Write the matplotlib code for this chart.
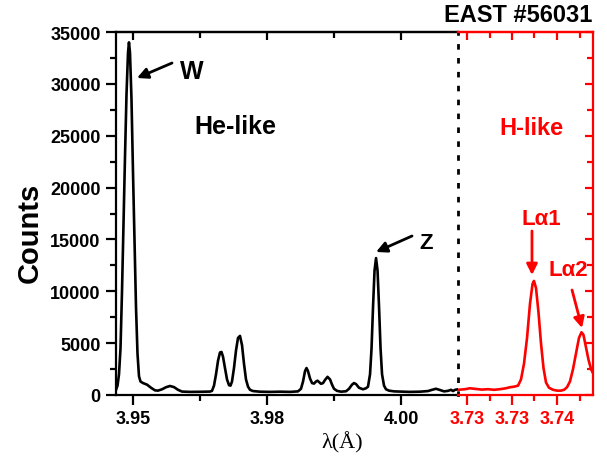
import matplotlib
matplotlib.use("Agg")
import matplotlib.pyplot as plt
from matplotlib.ticker import FixedLocator

plt.rcParams['font.family'] = ['Liberation Sans', 'DejaVu Sans']
plt.rcParams['font.weight'] = 'bold'

# He-like spectrum (black)
he_wavelength = [3.94683, 3.94711, 3.94739, 3.94767, 3.94795, 3.94823, 3.94851, 3.94879,
                 3.94907, 3.94925, 3.94944, 3.94972, 3.95000, 3.95028, 3.95056, 3.95084,
                 3.95112, 3.95140, 3.95187, 3.95261, 3.95336, 3.95410, 3.95466, 3.95541,
                 3.95616, 3.95690, 3.95765, 3.95840, 3.95914, 3.96063, 3.96250, 3.96437,
                 3.96474, 3.96511, 3.96549, 3.96586, 3.96623, 3.96651, 3.96679, 3.96716,
                 3.96754, 3.96791, 3.96819, 3.96847, 3.96884, 3.96922, 3.96959, 3.96996,
                 3.97034, 3.97071, 3.97108, 3.97146, 3.97183, 3.97239, 3.97369, 3.97556,
                 3.97743, 3.97929, 3.98078, 3.98134, 3.98172, 3.98209, 3.98237, 3.98265,
                 3.98302, 3.98340, 3.98377, 3.98414, 3.98442, 3.98470, 3.98508, 3.98545,
                 3.98582, 3.98629, 3.98676, 3.98713, 3.98750, 3.98806, 3.98881, 3.98974,
                 3.99030, 3.99086, 3.99123, 3.99161, 3.99216, 3.99291, 3.99347, 3.99384,
                 3.99422, 3.99450, 3.99478, 3.99506, 3.99534, 3.99562, 3.99590, 3.99618,
                 3.99646, 3.99683, 3.99720, 3.99776, 3.99870, 3.99981, 4.00168, 4.00355,
                 4.00504, 4.00579, 4.00653, 4.00728, 4.00802, 4.00877, 4.00933, 4.00970,
                 4.01008, 4.01063]
he_counts = [500, 900, 2000, 4500, 10000, 16500, 23000, 29000,
             33000, 34000, 33000, 28500, 21500, 15000, 8500, 4000,
             1800, 1300, 1150, 1000, 700, 450, 420, 550,
             750, 870, 760, 500, 330, 300, 310, 330,
             400, 900, 2000, 3300, 4100, 4150, 3700, 2600,
             1500, 950, 900, 1300, 2600, 4300, 5500, 5700,
             4800, 3000, 1500, 800, 500, 380, 320, 300,
             320, 300, 350, 600, 1300, 2300, 2600, 2300,
             1600, 1150, 1100, 1300, 1380, 1250, 1080, 1150,
             1450, 1750, 1500, 1000, 600, 400, 320, 360,
             600, 1000, 1150, 1050, 700, 550, 650, 800,
             2000, 4500, 8500, 12000, 13200, 12000, 8500, 4500,
             2000, 900, 550, 420, 350, 330, 300, 320,
             380, 500, 600, 480, 350, 400, 500, 380,
             500, 550]

# H-like spectrum (red)
h_wavelength = [3.72900, 3.72978, 3.73033, 3.73100, 3.73167, 3.73233, 3.73300, 3.73367,
                3.73433, 3.73478, 3.73522, 3.73567, 3.73600, 3.73633, 3.73667, 3.73700,
                3.73728, 3.73744, 3.73767, 3.73794, 3.73822, 3.73850, 3.73878, 3.73911,
                3.73956, 3.74000, 3.74044, 3.74078, 3.74111, 3.74144, 3.74178, 3.74211,
                3.74244, 3.74272, 3.74294, 3.74322, 3.74350, 3.74378, 3.74400]
h_counts = [500, 560, 650, 580, 520, 560, 500, 560,
            650, 750, 800, 900, 1500, 3000, 5500, 8800,
            10700, 11000, 10300, 8000, 5000, 2600, 1200, 700,
            500, 420, 420, 500, 750, 1300, 2500, 4000,
            5500, 6050, 5800, 4600, 3400, 2500, 2100]

y_ticks = [0, 5000, 10000, 15000, 20000, 25000, 30000, 35000]
y_minor = [2500, 7500, 12500, 17500, 22500, 27500, 32500]
he_xticks = [3.95, 3.975, 4.00]
he_xticklabels = ["3.95", "3.98", "4.00"]
he_xminor = [3.9625, 3.9875]
h_xticks = [3.730, 3.735, 3.740]
h_xticklabels = ["3.73", "3.73", "3.74"]
h_xminor = [3.7325, 3.7375, 3.7425]

W, H = 607, 464
RED = '#ff0000'
fig = plt.figure(figsize=(W / 100, H / 100), dpi=100)
ax1 = fig.add_axes([116 / W, 68 / H, 342 / W, 363 / H])
ax2 = fig.add_axes([458 / W, 68 / H, 135 / W, 363 / H])

SW = 1.6
# ---- black axes ----
ax1.plot(he_wavelength, he_counts, color='black', lw=1.9, solid_joinstyle='round')
ax1.set_xlim(3.94683, 4.01063)
ax1.set_ylim(0, 35000)
for s in ['left', 'bottom', 'top']:
    ax1.spines[s].set_linewidth(SW)
ax1.spines['right'].set_linewidth(2.0)
ax1.spines['right'].set_linestyle((0, (1, 4)))
ax1.set_xticks(he_xticks)
ax1.set_xticklabels(he_xticklabels)
ax1.xaxis.set_minor_locator(FixedLocator(he_xminor))
ax1.set_yticks(y_ticks)
ax1.set_yticklabels([str(v) for v in y_ticks])
ax1.yaxis.set_minor_locator(FixedLocator(y_minor))
ax1.tick_params(axis='both', which='both', direction='out', width=SW, labelsize=13,
                top=False, right=False)
ax1.tick_params(axis='both', which='major', length=7, pad=4)
ax1.tick_params(axis='both', which='minor', length=4.5)
for lab in ax1.get_xticklabels() + ax1.get_yticklabels():
    lab.set_fontweight('bold')

sec1 = ax1.secondary_xaxis('top')
sec1.set_xticks(he_xticks)
sec1.xaxis.set_minor_locator(FixedLocator(he_xminor))
sec1.tick_params(axis='x', which='both', direction='in', width=SW, labeltop=False)
sec1.tick_params(axis='x', which='major', length=6)
sec1.tick_params(axis='x', which='minor', length=4)
sec1.spines['top'].set_linewidth(SW)

# ---- red axes ----
ax2.patch.set_alpha(0)
ax2.plot(h_wavelength, h_counts, color=RED, lw=1.9, solid_joinstyle='round')
ax2.set_xlim(3.729, 3.744)
ax2.set_ylim(0, 35000)
ax2.spines['left'].set_visible(False)
for s in ['right', 'bottom', 'top']:
    ax2.spines[s].set_linewidth(SW)
    ax2.spines[s].set_color(RED)
ax2.set_xticks(h_xticks)
ax2.set_xticklabels(h_xticklabels)
ax2.xaxis.set_minor_locator(FixedLocator(h_xminor))
ax2.set_yticks(y_ticks)
ax2.yaxis.set_minor_locator(FixedLocator(y_minor))
ax2.tick_params(axis='x', which='both', direction='out', width=SW, colors=RED,
                labelsize=13, top=False)
ax2.tick_params(axis='x', which='major', length=7, pad=4)
ax2.tick_params(axis='x', which='minor', length=4.5)
ax2.tick_params(axis='y', which='both', direction='in', width=SW, colors=RED,
                left=False, labelleft=False, right=True, labelright=False)
ax2.tick_params(axis='y', which='major', length=6)
ax2.tick_params(axis='y', which='minor', length=4)
for lab in ax2.get_xticklabels():
    lab.set_fontweight('bold')

sec2 = ax2.secondary_xaxis('top')
sec2.set_xticks(h_xticks)
sec2.xaxis.set_minor_locator(FixedLocator(h_xminor))
sec2.tick_params(axis='x', which='both', direction='in', width=SW, colors=RED, labeltop=False)
sec2.tick_params(axis='x', which='major', length=6)
sec2.tick_params(axis='x', which='minor', length=4)
sec2.spines['top'].set_linewidth(SW)
sec2.spines['top'].set_color(RED)

# ---- annotations ----
arw_k = dict(arrowstyle='-|>', color='black', lw=2, mutation_scale=16, shrinkA=0, shrinkB=0)
arw_r = dict(arrowstyle='-|>', color=RED, lw=2, mutation_scale=16, shrinkA=0, shrinkB=0)

ax1.annotate('', xy=(3.95075, 30565), xytext=(3.95728, 32011), arrowprops=arw_k)
ax1.text(3.96101, 31240, 'W', ha='center', va='center', fontsize=18, fontweight='bold')
ax1.text(3.96912, 25890, 'He-like', ha='center', va='center', fontsize=18, fontweight='bold')
ax1.annotate('', xy=(3.99534, 13788), xytext=(4.00205, 15331), arrowprops=arw_k)
ax1.text(4.00466, 14752, 'Z', ha='center', va='center', fontsize=16, fontweight='bold')

ax2.text(3.73717, 25840, 'H-like', ha='center', va='center', fontsize=17,
         fontweight='bold', color=RED)
ax2.text(3.73822, 16970, 'Lα1', ha='center', va='center', fontsize=16,
         fontweight='bold', color=RED)
ax2.annotate('', xy=(3.73722, 11570), xytext=(3.73722, 15813), arrowprops=arw_r)
ax2.text(3.74122, 12053, 'Lα2', ha='center', va='center', fontsize=16,
         fontweight='bold', color=RED)
ax2.annotate('', xy=(3.74278, 6460), xytext=(3.74167, 10124), arrowprops=arw_r)

fig.text(518 / W, 1 - 16 / H, 'EAST #56031', ha='center', va='center', fontsize=17,
         fontweight='bold')
fig.text(30 / W, 1 - 233 / H, 'Counts', ha='center', va='center', rotation=90,
         fontsize=21, fontweight='bold')
fig.text(342 / W, 1 - 443 / H, 'λ(Å)', ha='center', va='center', fontsize=16,
         fontweight='normal', family=['Liberation Serif', 'DejaVu Serif'])

fig.savefig('out.png', dpi=100)
